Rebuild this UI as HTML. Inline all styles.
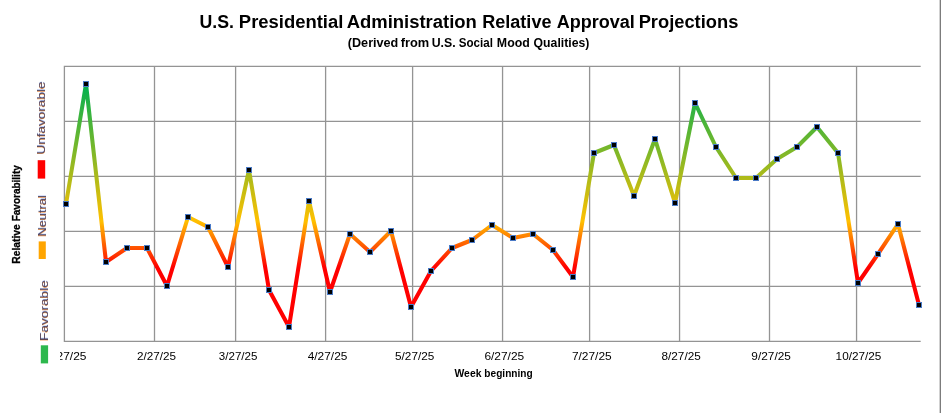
<!DOCTYPE html>
<html lang="en">
<head>
<meta charset="utf-8">
<title>U.S. Presidential Administration Relative Approval Projections</title>
<style>
html,body{margin:0;padding:0;background:#fff;}
body{width:941px;height:413px;overflow:hidden;}
svg{display:block;}
text{font-family:"Liberation Sans","DejaVu Sans",sans-serif;}
</style>
</head>
<body>
<svg width="941" height="413" viewBox="0 0 941 413">
<defs>
<linearGradient id="lg" gradientUnits="userSpaceOnUse" x1="0" y1="84" x2="0" y2="327">
<stop offset="0" stop-color="#00b050"/>
<stop offset="0.565" stop-color="#ffc000"/>
<stop offset="0.755" stop-color="#ff0000"/>
<stop offset="1" stop-color="#ff0000"/>
</linearGradient>
<linearGradient id="tg" gradientUnits="userSpaceOnUse" x1="0" y1="-7" x2="0" y2="0">
<stop offset="0" stop-color="#8a3a20"/>
<stop offset="0.5" stop-color="#3a2448"/>
<stop offset="1" stop-color="#14247a"/>
</linearGradient>
<clipPath id="cl"><rect x="60" y="342" width="881" height="40"/></clipPath>
</defs>
<rect x="0" y="0" width="941" height="413" fill="#ffffff"/>
<rect x="939.65" y="0" width="1.35" height="413" fill="#7c7c7c"/>

<g stroke="#949494" stroke-width="1.3" fill="none">
<polyline stroke-linejoin="miter" points="920.70,66.40 64.40,66.40 64.40,341.40 920.70,341.40"/>
<line x1="154.50" y1="66.40" x2="154.50" y2="341.40"/>
<line x1="235.60" y1="66.40" x2="235.60" y2="341.40"/>
<line x1="325.60" y1="66.40" x2="325.60" y2="341.40"/>
<line x1="412.60" y1="66.40" x2="412.60" y2="341.40"/>
<line x1="502.56" y1="66.40" x2="502.56" y2="341.40"/>
<line x1="589.60" y1="66.40" x2="589.60" y2="341.40"/>
<line x1="679.56" y1="66.40" x2="679.56" y2="341.40"/>
<line x1="769.50" y1="66.40" x2="769.50" y2="341.40"/>
<line x1="856.56" y1="66.40" x2="856.56" y2="341.40"/>
<line x1="64.40" y1="121.40" x2="920.70" y2="121.40"/>
<line x1="64.40" y1="176.45" x2="920.70" y2="176.45"/>
<line x1="64.40" y1="231.40" x2="920.70" y2="231.40"/>
<line x1="64.40" y1="286.40" x2="920.70" y2="286.40"/>
</g>
<polyline fill="none" stroke="url(#lg)" stroke-width="4.05" stroke-linejoin="round" stroke-linecap="butt" points="66.00,204.00 86.00,84.00 106.00,262.00 127.00,248.00 147.00,248.00 167.00,286.00 188.00,217.00 208.00,227.00 228.00,267.00 249.00,170.00 269.00,290.00 289.00,327.00 309.00,201.00 330.00,292.00 350.00,234.00 370.00,252.00 391.00,231.00 411.00,307.00 431.00,271.00 452.00,248.00 472.00,240.00 492.00,225.00 513.00,238.00 533.00,234.00 553.00,250.00 573.00,277.00 594.00,153.00 614.00,145.00 634.00,196.00 655.00,139.00 675.00,203.00 695.00,103.00 716.00,147.00 736.00,178.00 756.00,178.00 777.00,159.00 797.00,147.00 817.00,127.00 838.00,153.00 858.00,283.00 878.00,254.00 898.00,224.00 919.00,305.00"/>
<g>
<rect x="63.00" y="201.00" width="6" height="6" fill="#4a7ac6"/><rect x="64.00" y="202.00" width="4" height="4" fill="#000"/>
<rect x="83.00" y="81.00" width="6" height="6" fill="#4a7ac6"/><rect x="84.00" y="82.00" width="4" height="4" fill="#000"/>
<rect x="103.00" y="259.00" width="6" height="6" fill="#4a7ac6"/><rect x="104.00" y="260.00" width="4" height="4" fill="#000"/>
<rect x="124.00" y="245.00" width="6" height="6" fill="#4a7ac6"/><rect x="125.00" y="246.00" width="4" height="4" fill="#000"/>
<rect x="144.00" y="245.00" width="6" height="6" fill="#4a7ac6"/><rect x="145.00" y="246.00" width="4" height="4" fill="#000"/>
<rect x="164.00" y="283.00" width="6" height="6" fill="#4a7ac6"/><rect x="165.00" y="284.00" width="4" height="4" fill="#000"/>
<rect x="185.00" y="214.00" width="6" height="6" fill="#4a7ac6"/><rect x="186.00" y="215.00" width="4" height="4" fill="#000"/>
<rect x="205.00" y="224.00" width="6" height="6" fill="#4a7ac6"/><rect x="206.00" y="225.00" width="4" height="4" fill="#000"/>
<rect x="225.00" y="264.00" width="6" height="6" fill="#4a7ac6"/><rect x="226.00" y="265.00" width="4" height="4" fill="#000"/>
<rect x="246.00" y="167.00" width="6" height="6" fill="#4a7ac6"/><rect x="247.00" y="168.00" width="4" height="4" fill="#000"/>
<rect x="266.00" y="287.00" width="6" height="6" fill="#4a7ac6"/><rect x="267.00" y="288.00" width="4" height="4" fill="#000"/>
<rect x="286.00" y="324.00" width="6" height="6" fill="#4a7ac6"/><rect x="287.00" y="325.00" width="4" height="4" fill="#000"/>
<rect x="306.00" y="198.00" width="6" height="6" fill="#4a7ac6"/><rect x="307.00" y="199.00" width="4" height="4" fill="#000"/>
<rect x="327.00" y="289.00" width="6" height="6" fill="#4a7ac6"/><rect x="328.00" y="290.00" width="4" height="4" fill="#000"/>
<rect x="347.00" y="231.00" width="6" height="6" fill="#4a7ac6"/><rect x="348.00" y="232.00" width="4" height="4" fill="#000"/>
<rect x="367.00" y="249.00" width="6" height="6" fill="#4a7ac6"/><rect x="368.00" y="250.00" width="4" height="4" fill="#000"/>
<rect x="388.00" y="228.00" width="6" height="6" fill="#4a7ac6"/><rect x="389.00" y="229.00" width="4" height="4" fill="#000"/>
<rect x="408.00" y="304.00" width="6" height="6" fill="#4a7ac6"/><rect x="409.00" y="305.00" width="4" height="4" fill="#000"/>
<rect x="428.00" y="268.00" width="6" height="6" fill="#4a7ac6"/><rect x="429.00" y="269.00" width="4" height="4" fill="#000"/>
<rect x="449.00" y="245.00" width="6" height="6" fill="#4a7ac6"/><rect x="450.00" y="246.00" width="4" height="4" fill="#000"/>
<rect x="469.00" y="237.00" width="6" height="6" fill="#4a7ac6"/><rect x="470.00" y="238.00" width="4" height="4" fill="#000"/>
<rect x="489.00" y="222.00" width="6" height="6" fill="#4a7ac6"/><rect x="490.00" y="223.00" width="4" height="4" fill="#000"/>
<rect x="510.00" y="235.00" width="6" height="6" fill="#4a7ac6"/><rect x="511.00" y="236.00" width="4" height="4" fill="#000"/>
<rect x="530.00" y="231.00" width="6" height="6" fill="#4a7ac6"/><rect x="531.00" y="232.00" width="4" height="4" fill="#000"/>
<rect x="550.00" y="247.00" width="6" height="6" fill="#4a7ac6"/><rect x="551.00" y="248.00" width="4" height="4" fill="#000"/>
<rect x="570.00" y="274.00" width="6" height="6" fill="#4a7ac6"/><rect x="571.00" y="275.00" width="4" height="4" fill="#000"/>
<rect x="591.00" y="150.00" width="6" height="6" fill="#4a7ac6"/><rect x="592.00" y="151.00" width="4" height="4" fill="#000"/>
<rect x="611.00" y="142.00" width="6" height="6" fill="#4a7ac6"/><rect x="612.00" y="143.00" width="4" height="4" fill="#000"/>
<rect x="631.00" y="193.00" width="6" height="6" fill="#4a7ac6"/><rect x="632.00" y="194.00" width="4" height="4" fill="#000"/>
<rect x="652.00" y="136.00" width="6" height="6" fill="#4a7ac6"/><rect x="653.00" y="137.00" width="4" height="4" fill="#000"/>
<rect x="672.00" y="200.00" width="6" height="6" fill="#4a7ac6"/><rect x="673.00" y="201.00" width="4" height="4" fill="#000"/>
<rect x="692.00" y="100.00" width="6" height="6" fill="#4a7ac6"/><rect x="693.00" y="101.00" width="4" height="4" fill="#000"/>
<rect x="713.00" y="144.00" width="6" height="6" fill="#4a7ac6"/><rect x="714.00" y="145.00" width="4" height="4" fill="#000"/>
<rect x="733.00" y="175.00" width="6" height="6" fill="#4a7ac6"/><rect x="734.00" y="176.00" width="4" height="4" fill="#000"/>
<rect x="753.00" y="175.00" width="6" height="6" fill="#4a7ac6"/><rect x="754.00" y="176.00" width="4" height="4" fill="#000"/>
<rect x="774.00" y="156.00" width="6" height="6" fill="#4a7ac6"/><rect x="775.00" y="157.00" width="4" height="4" fill="#000"/>
<rect x="794.00" y="144.00" width="6" height="6" fill="#4a7ac6"/><rect x="795.00" y="145.00" width="4" height="4" fill="#000"/>
<rect x="814.00" y="124.00" width="6" height="6" fill="#4a7ac6"/><rect x="815.00" y="125.00" width="4" height="4" fill="#000"/>
<rect x="835.00" y="150.00" width="6" height="6" fill="#4a7ac6"/><rect x="836.00" y="151.00" width="4" height="4" fill="#000"/>
<rect x="855.00" y="280.00" width="6" height="6" fill="#4a7ac6"/><rect x="856.00" y="281.00" width="4" height="4" fill="#000"/>
<rect x="875.00" y="251.00" width="6" height="6" fill="#4a7ac6"/><rect x="876.00" y="252.00" width="4" height="4" fill="#000"/>
<rect x="895.00" y="221.00" width="6" height="6" fill="#4a7ac6"/><rect x="896.00" y="222.00" width="4" height="4" fill="#000"/>
<rect x="916.00" y="302.00" width="6" height="6" fill="#4a7ac6"/><rect x="917.00" y="303.00" width="4" height="4" fill="#000"/>
</g>
<g font-size="17.5" font-weight="bold" fill="#000">
<text x="199.57" y="27.6" textLength="34.48" lengthAdjust="spacingAndGlyphs">U.S.</text>
<text x="238.85" y="27.6" textLength="104.54" lengthAdjust="spacingAndGlyphs">Presidential</text>
<text x="346.71" y="27.6" textLength="130.18" lengthAdjust="spacingAndGlyphs">Administration</text>
<text x="482.27" y="27.6" textLength="69.18" lengthAdjust="spacingAndGlyphs">Relative</text>
<text x="556.72" y="27.6" textLength="78.15" lengthAdjust="spacingAndGlyphs">Approval</text>
<text x="638.66" y="27.6" textLength="99.69" lengthAdjust="spacingAndGlyphs">Projections</text>
</g>
<g font-size="13.3" font-weight="bold" fill="#000">
<text x="347.81" y="46.8" textLength="50.50" lengthAdjust="spacingAndGlyphs">(Derived</text>
<text x="400.80" y="46.8" textLength="28.48" lengthAdjust="spacingAndGlyphs">from</text>
<text x="431.72" y="46.8" textLength="23.90" lengthAdjust="spacingAndGlyphs">U.S.</text>
<text x="458.72" y="46.8" textLength="34.17" lengthAdjust="spacingAndGlyphs">Social</text>
<text x="496.83" y="46.8" textLength="32.96" lengthAdjust="spacingAndGlyphs">Mood</text>
<text x="533.62" y="46.8" textLength="55.72" lengthAdjust="spacingAndGlyphs">Qualities)</text>
</g>
<g font-size="11" fill="#000" clip-path="url(#cl)">
<text x="46.63" y="360" textLength="39.82" lengthAdjust="spacingAndGlyphs">1/27/25</text>
<text x="136.92" y="360" textLength="39.03" lengthAdjust="spacingAndGlyphs">2/27/25</text>
<text x="218.83" y="360" textLength="38.61" lengthAdjust="spacingAndGlyphs">3/27/25</text>
<text x="307.73" y="360" textLength="39.62" lengthAdjust="spacingAndGlyphs">4/27/25</text>
<text x="395.07" y="360" textLength="39.17" lengthAdjust="spacingAndGlyphs">5/27/25</text>
<text x="484.40" y="360" textLength="39.80" lengthAdjust="spacingAndGlyphs">6/27/25</text>
<text x="571.90" y="360" textLength="39.80" lengthAdjust="spacingAndGlyphs">7/27/25</text>
<text x="661.52" y="360" textLength="39.23" lengthAdjust="spacingAndGlyphs">8/27/25</text>
<text x="751.36" y="360" textLength="39.49" lengthAdjust="spacingAndGlyphs">9/27/25</text>
<text x="835.64" y="360" textLength="45.80" lengthAdjust="spacingAndGlyphs">10/27/25</text>
</g>
<g font-size="11" font-weight="bold" fill="#000">
<text x="454.50" y="376.5" textLength="26.97" lengthAdjust="spacingAndGlyphs">Week</text>
<text x="484.36" y="376.5" textLength="48.30" lengthAdjust="spacingAndGlyphs">beginning</text>
</g>
<g transform="translate(20.3,263.1) rotate(-90)" font-size="11" font-weight="bold" fill="#000" stroke="#000" stroke-width="0.3">
<text x="-0.66" y="0" textLength="39.50" lengthAdjust="spacingAndGlyphs">Relative</text>
<text x="41.76" y="0" textLength="56.15" lengthAdjust="spacingAndGlyphs">Favorability</text>
</g>
<rect x="37.7" y="160.2" width="7.5" height="18.4" fill="#ff0000"/>
<rect x="38.7" y="241.4" width="7.1" height="17.6" fill="#ffa500"/>
<rect x="40.8" y="345.3" width="7.3" height="18.1" fill="#2db84d"/>
<g font-size="10.2" stroke-linejoin="round">
<text transform="translate(44.80,155.00) rotate(-90)" fill="#f07818" stroke="#f07818" stroke-width="0" opacity="0.65" textLength="72.8" lengthAdjust="spacingAndGlyphs">Unfavorable</text>
<text transform="translate(44.80,153.80) rotate(-90)" fill="#4a70e0" stroke="#4a70e0" stroke-width="0" opacity="0.4" textLength="72.8" lengthAdjust="spacingAndGlyphs">Unfavorable</text>
<text transform="translate(44.80,154.40) rotate(-90)" fill="#2c2440" stroke="#2c2440" stroke-width="0" opacity="0.7" textLength="72.8" lengthAdjust="spacingAndGlyphs">Unfavorable</text>
</g>
<g font-size="10.2" stroke-linejoin="round">
<text transform="translate(45.80,237.20) rotate(-90)" fill="#f07818" stroke="#f07818" stroke-width="0" opacity="0.65" textLength="41.4" lengthAdjust="spacingAndGlyphs">Neutral</text>
<text transform="translate(45.80,236.00) rotate(-90)" fill="#4a70e0" stroke="#4a70e0" stroke-width="0" opacity="0.4" textLength="41.4" lengthAdjust="spacingAndGlyphs">Neutral</text>
<text transform="translate(45.80,236.60) rotate(-90)" fill="#2c2440" stroke="#2c2440" stroke-width="0" opacity="0.7" textLength="41.4" lengthAdjust="spacingAndGlyphs">Neutral</text>
</g>
<g font-size="10.2" stroke-linejoin="round">
<text transform="translate(47.60,341.50) rotate(-90)" fill="#f07818" stroke="#f07818" stroke-width="0" opacity="0.65" textLength="60.7" lengthAdjust="spacingAndGlyphs">Favorable</text>
<text transform="translate(47.60,340.30) rotate(-90)" fill="#4a70e0" stroke="#4a70e0" stroke-width="0" opacity="0.4" textLength="60.7" lengthAdjust="spacingAndGlyphs">Favorable</text>
<text transform="translate(47.60,340.90) rotate(-90)" fill="#2c2440" stroke="#2c2440" stroke-width="0" opacity="0.7" textLength="60.7" lengthAdjust="spacingAndGlyphs">Favorable</text>
</g>
</svg>
</body>
</html>
